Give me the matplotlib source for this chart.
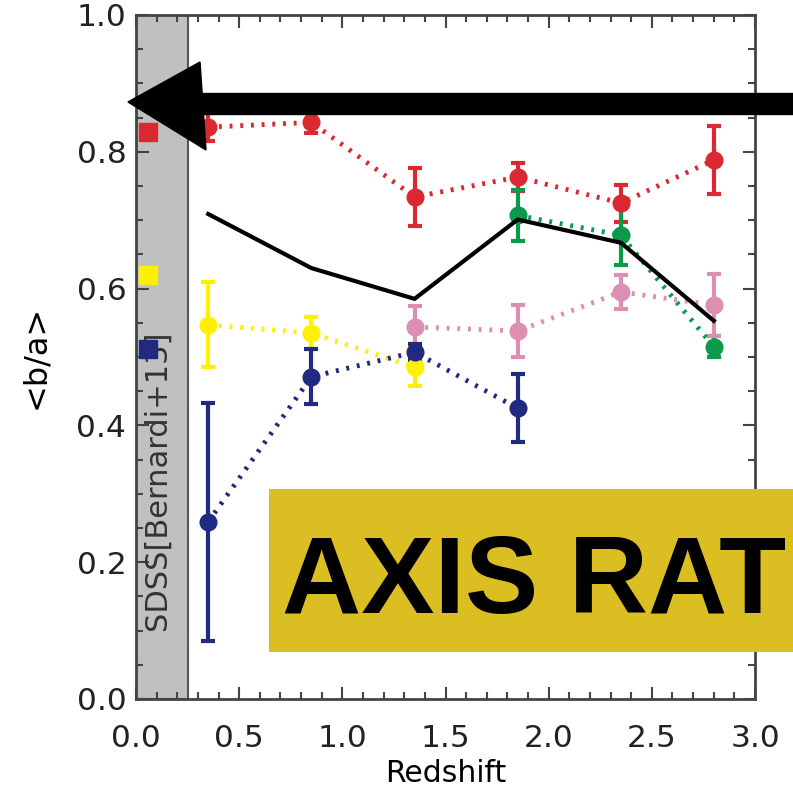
import matplotlib
matplotlib.use('Agg')
import matplotlib.pyplot as plt
from matplotlib.patches import Rectangle, Polygon
from matplotlib.ticker import MultipleLocator

plt.rcParams['font.family'] = ['DejaVu Sans']

z = [0.35, 0.85, 1.35, 1.85, 2.35, 2.80]

# mean axis ratio per redshift bin, one list per sample
red_ba = [0.836, 0.843, 0.734, 0.763, 0.725, 0.788]
red_err = [0.020, 0.016, 0.043, 0.020, 0.027, 0.050]
green_z = [1.85, 2.35, 2.80]
green_ba = [0.707, 0.678, 0.515]
green_err = [0.037, 0.043, 0.015]
pink_z = [1.35, 1.85, 2.35, 2.80]
pink_ba = [0.544, 0.538, 0.595, 0.576]
pink_err = [0.030, 0.038, 0.025, 0.045]
yellow_z = [0.35, 0.85, 1.35]
yellow_ba = [0.547, 0.535, 0.485]
yellow_err = [0.062, 0.023, 0.028]
navy_z = [0.35, 0.85, 1.35, 1.85]
navy_ba = [0.259, 0.471, 0.507, 0.425]
navy_err = [0.174, 0.040, 0.012, 0.050]
all_ba = [0.709, 0.630, 0.585, 0.701, 0.667, 0.553]

# SDSS reference values (Bernardi+13)
sdss_z = 0.06
sdss_ba = [0.829, 0.620, 0.512]
sdss_cols = ['#dc2830', '#fff000', '#1f2a80']

fig = plt.figure(figsize=(7.93, 7.89), dpi=100)
ax = fig.add_axes([0.1715, 0.1141, 0.7806, 0.8669])

ax.add_patch(Rectangle((0, 0), 0.25, 1.0, facecolor='#c0c0c0', edgecolor='#555555', lw=1.5, zorder=1))
ax.text(0.105, 0.32, 'SDSS[Bernardi+13]', rotation=90, ha='center', va='center',
        fontsize=22, color='#333333', zorder=2)

def series(xs, ys, es, col):
    ax.errorbar(xs, ys, yerr=es, color=col, marker='o', ms=12, lw=3.5,
                elinewidth=3, capsize=5, capthick=3, linestyle=(0, (0.6, 1.6)), zorder=3)

series(z, red_ba, red_err, '#dc2830')
series(green_z, green_ba, green_err, '#0a9a4a')
series(pink_z, pink_ba, pink_err, '#dc8fb0')
series(yellow_z, yellow_ba, yellow_err, '#fff000')
series(navy_z, navy_ba, navy_err, '#1f2a80')
ax.plot(z, all_ba, color='black', lw=3, zorder=4)

for b, c in zip(sdss_ba, sdss_cols):
    ax.plot(sdss_z, b, marker='s', ms=13, color=c, linestyle='none', zorder=3)

ax.set_xlim(0, 3.0)
ax.set_ylim(0, 1.0)
ax.xaxis.set_major_locator(MultipleLocator(0.5))
ax.xaxis.set_minor_locator(MultipleLocator(0.1))
ax.yaxis.set_major_locator(MultipleLocator(0.2))
ax.yaxis.set_minor_locator(MultipleLocator(0.05))
ax.tick_params(which='both', direction='in', top=True, right=True, colors='#444444',
               labelcolor='#222222', labelsize=22.5, width=1.5)
ax.tick_params(which='major', length=9)
ax.tick_params(which='minor', length=5)
ax.tick_params(axis='x', which='major', pad=18)
ax.tick_params(axis='y', which='major', pad=7)
for s in ax.spines.values():
    s.set_color('#444444')
    s.set_linewidth(2)
ax.set_xlabel('Redshift', fontsize=21.5, labelpad=4)
ax.set_ylabel('<b/a>', fontsize=23, labelpad=18)

# hand-drawn style arrow across the top
W, H = 793.0, 789.0
shaft = Polygon([(195 / W, 1 - 93 / H), (1.02, 1 - 93 / H), (1.02, 1 - 114 / H), (195 / W, 1 - 114 / H)],
                closed=True, transform=fig.transFigure, facecolor='black', edgecolor='black', zorder=10)
head = Polygon([(128 / W, 1 - 102 / H), (200 / W, 1 - 62 / H), (206 / W, 1 - 150 / H)],
               closed=True, transform=fig.transFigure, facecolor='black', edgecolor='black', zorder=10)
fig.patches.extend([shaft, head])

# yellow banner running off the right edge
fig.patches.append(Rectangle((269 / W, 1 - 652 / H), 0.7, 163 / H, transform=fig.transFigure,
                             facecolor='#dbbe22', edgecolor='none', zorder=10))
fig.text(282 / W, 1 - 613 / H, 'AXIS RAT', fontsize=79, fontweight='bold',
         family='Liberation Sans', ha='left', va='baseline', color='black', zorder=11)

plt.savefig('out.png', dpi=100)
